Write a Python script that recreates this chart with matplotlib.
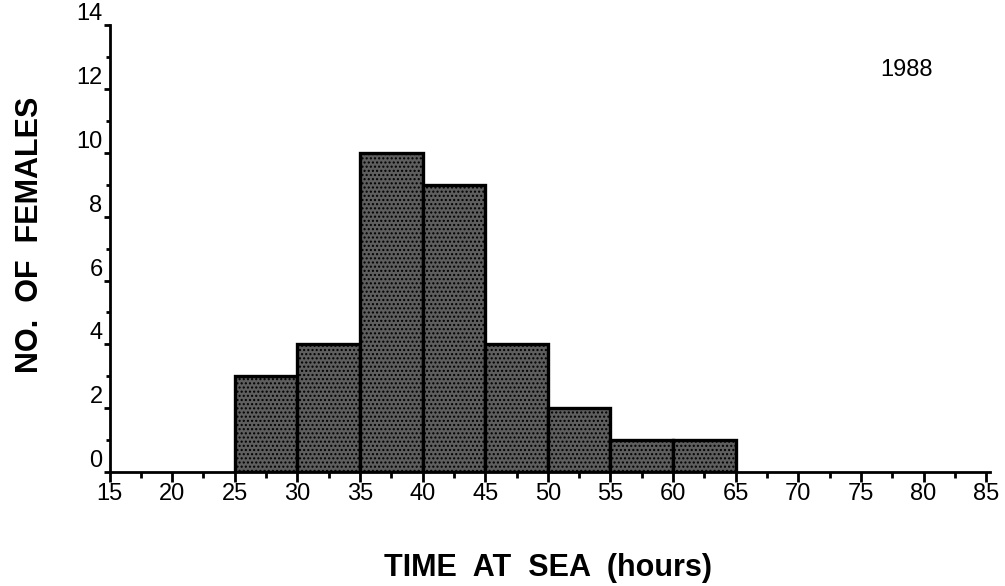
import matplotlib
matplotlib.use("Agg")
import matplotlib.pyplot as plt
import numpy as np

plt.rcParams['font.family'] = ['Liberation Sans', 'DejaVu Sans']
plt.rcParams['hatch.color'] = '#c8c8c8'

bin_edges = [25, 30, 35, 40, 45, 50, 55, 60, 65]
counts = [3, 4, 10, 9, 4, 2, 1, 1]
x_ticks = [15, 20, 25, 30, 35, 40, 45, 50, 55, 60, 65, 70, 75, 80, 85]
y_ticks = [0, 2, 4, 6, 8, 10, 12, 14]
year_label = "1988"

fig = plt.figure(figsize=(10.05, 5.86), dpi=100)
ax = fig.add_axes([0.109, 0.1945, 0.876, 0.7625])

lefts = bin_edges[:-1]
widths = np.diff(bin_edges)
ax.bar(lefts, counts, width=widths, align='edge', facecolor='#5e5e5e',
       edgecolor='black', linewidth=2.4, hatch='....', zorder=2)

ax.set_xlim(15, 85.3)
ax.set_ylim(0, 14)
for s in ['top', 'right']:
    ax.spines[s].set_visible(False)
for s in ['left', 'bottom']:
    ax.spines[s].set_linewidth(2)

ax.set_xticks(x_ticks)
ax.set_xticks(np.arange(17.5, 85, 5), minor=True)
ax.set_yticks(y_ticks)
ax.set_yticks(np.arange(1, 14, 2), minor=True)
ax.tick_params(axis='x', which='major', direction='out', length=7, width=2, labelsize=17, pad=1)
ax.tick_params(axis='x', which='minor', direction='out', length=4, width=2)
ax.tick_params(axis='y', which='major', direction='out', length=4, width=2, labelsize=17, pad=1)
ax.tick_params(axis='y', which='minor', direction='out', length=3, width=2)
for lab in ax.get_yticklabels():
    lab.set_verticalalignment('bottom')

ax.text(0.905, 0.90, year_label, transform=ax.transAxes, fontsize=17, ha='center', va='center')

fig.text(0.03, 0.60, "NO.  OF  FEMALES", rotation=90, fontsize=22, fontweight='bold',
         ha='center', va='center')
fig.text(0.545, 0.03, "TIME  AT  SEA  (hours)", fontsize=22, fontweight='bold',
         ha='center', va='center')

fig.savefig("out.png", dpi=100)
